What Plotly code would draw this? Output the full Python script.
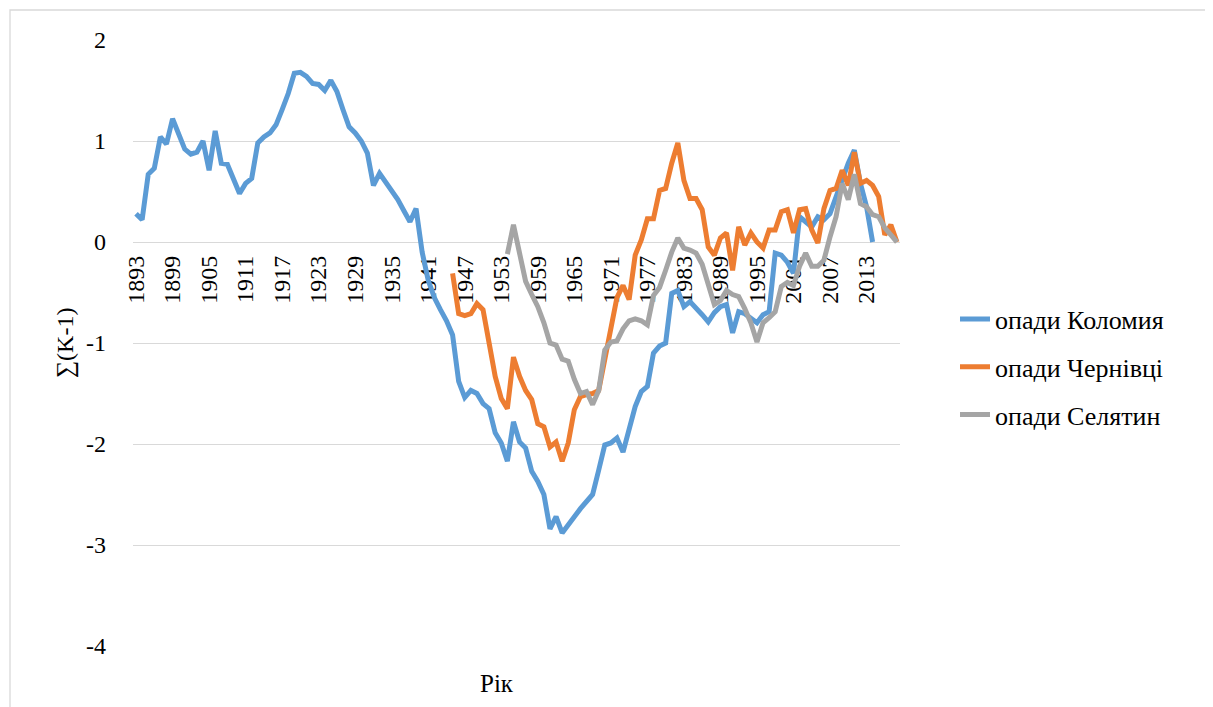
import plotly.graph_objects as go

# ---- data ----
start_kolomyia = 1893
kolomyia = [0.28, 0.22, 0.67, 0.73, 1.04, 0.97, 1.22, 1.06, 0.92, 0.87,
            0.89, 1.00, 0.71, 1.10, 0.78, 0.77, 0.63, 0.48, 0.58, 0.63,
            0.98, 1.04, 1.08, 1.16, 1.31, 1.47, 1.67, 1.68, 1.64, 1.57,
            1.56, 1.50, 1.60, 1.49, 1.31, 1.14, 1.08, 1.00, 0.88, 0.56,
            0.68, 0.60, 0.51, 0.42, 0.31, 0.20, 0.33, -0.10, -0.38, -0.55,
            -0.67, -0.78, -0.92, -1.38, -1.54, -1.47, -1.50, -1.60, -1.65, -1.89,
            -1.99, -2.17, -1.78, -1.98, -2.04, -2.27, -2.37, -2.50, -2.84, -2.72,
            -2.88, -2.79, -2.72, -2.64, -2.57, -2.50, -2.26, -2.01, -1.99, -1.94,
            -2.08, -1.84, -1.63, -1.48, -1.43, -1.10, -1.03, -1.00, -0.51, -0.48,
            -0.64, -0.59, -0.65, -0.72, -0.79, -0.70, -0.64, -0.62, -0.90, -0.69,
            -0.71, -0.76, -0.80, -0.72, -0.69, -0.11, -0.13, -0.20, -0.31, 0.25,
            0.20, 0.15, 0.25, 0.22, 0.28, 0.45, 0.62, 0.78, 0.91, 0.58,
            0.35, 0.00]

start_chernivtsi = 1945
chernivtsi = [-0.31, -0.71, -0.73, -0.71, -0.61, -0.67, -1.00, -1.33, -1.55, -1.65,
              -1.14, -1.33, -1.47, -1.56, -1.80, -1.83, -2.03, -1.98, -2.17, -1.99,
              -1.66, -1.53, -1.51, -1.50, -1.47, -1.15, -0.85, -0.55, -0.43, -0.57,
              -0.13, 0.02, 0.23, 0.23, 0.51, 0.53, 0.78, 0.98, 0.61, 0.43,
              0.43, 0.32, -0.05, -0.13, 0.04, 0.09, -0.28, 0.15, -0.03, 0.09,
              0.00, -0.06, 0.12, 0.12, 0.30, 0.32, 0.09, 0.32, 0.33, 0.12,
              -0.01, 0.33, 0.51, 0.53, 0.71, 0.56, 0.89, 0.58, 0.61, 0.56,
              0.45, 0.07, 0.17, 0.00]

start_seliatyn = 1954
seliatyn = [-0.12, 0.17, -0.11, -0.39, -0.52, -0.64, -0.80, -1.00, -1.02, -1.16,
            -1.18, -1.36, -1.50, -1.48, -1.61, -1.47, -1.07, -0.99, -0.98, -0.86,
            -0.78, -0.76, -0.78, -0.82, -0.53, -0.45, -0.28, -0.10, 0.04, -0.06,
            -0.08, -0.11, -0.22, -0.42, -0.62, -0.58, -0.48, -0.52, -0.54, -0.66,
            -0.80, -0.99, -0.80, -0.75, -0.69, -0.44, -0.40, -0.43, -0.24, -0.11,
            -0.24, -0.24, -0.18, 0.05, 0.25, 0.58, 0.42, 0.67, 0.38, 0.35,
            0.27, 0.25, 0.14, 0.07, 0.00]

first_year = 1893
last_year = 2018
tick_years = list(range(1893, 2014, 6))
y_ticks = [2, 1, 0, -1, -2, -3, -4]
y_tick_text = ["2", "1", "0", "-1", "-2", "-3", "-4"]

names = ["опади Коломия", "опади Чернівці", "опади Селятин"]
colors = ["#5B9BD5", "#ED7D31", "#A5A5A5"]

FONT = "'Liberation Serif', 'Times New Roman', Times, serif"

fig = go.Figure()
for i, (start, vals) in enumerate([(start_kolomyia, kolomyia),
                                    (start_chernivtsi, chernivtsi),
                                    (start_seliatyn, seliatyn)]):
    xs = list(range(start, start + len(vals)))
    fig.add_trace(go.Scatter(
        x=xs, y=vals, mode="lines", name=names[i],
        legendgroup=f"g{i}",
        line=dict(color=colors[i], width=5),
    ))

# page body has an 8px margin, so the figure is drawn 8px smaller/offset
OFF = 8
W, H = 1213 - OFF, 707 - OFF
L, T = 133 - OFF, 40 - OFF
pw, ph = 767, 606
R, B = W - L - pw, H - T - ph

def px_x(x):  # reference pixel -> paper x
    return (x - 133) / pw

def px_y(y):  # reference pixel -> paper y
    return (646 - y) / ph

fig.update_layout(
    width=W, height=H,
    margin=dict(l=L, r=R, t=T, b=B),
    paper_bgcolor="white", plot_bgcolor="white",
    font=dict(family=FONT, size=24, color="black"),
    showlegend=True,
    legend=dict(
        x=px_x(955), xanchor="left",
        y=px_y(367), yanchor="middle",
        font=dict(family=FONT, size=26, color="black"),
        traceorder="grouped", tracegroupgap=11,
        bgcolor="rgba(0,0,0,0)",
    ),
    xaxis=dict(
        range=[first_year - 0.5, last_year + 0.5],
        tickvals=tick_years,
        ticktext=[str(y) for y in tick_years],
        tickangle=-90,
        anchor="free",
        position=(0 - y_ticks[-1]) / (y_ticks[0] - y_ticks[-1]),
        showgrid=False, zeroline=False, showline=False,
        ticks="", ticklabelstandoff=8,
        layer="below traces",
        tickfont=dict(family=FONT, size=24, color="black"),
    ),
    yaxis=dict(
        range=[y_ticks[-1], y_ticks[0]],
        tickvals=y_ticks, ticktext=y_tick_text,
        showgrid=True, gridcolor="#D9D9D9", gridwidth=1.3,
        zeroline=False, showline=False,
        ticks="", ticklabelstandoff=26,
        tickfont=dict(family=FONT, size=24, color="black"),
    ),
)

fig.add_annotation(
    text="∑(K-1)", textangle=-90,
    xref="paper", yref="paper",
    x=px_x(65), y=0.5, xanchor="center", yanchor="middle",
    showarrow=False, font=dict(family=FONT, size=24, color="black"),
)
fig.add_annotation(
    text="Рік",
    xref="paper", yref="paper",
    x=px_x(497), y=px_y(683), xanchor="center", yanchor="middle",
    showarrow=False, font=dict(family=FONT, size=25, color="black"),
)

# chart area border
fig.add_shape(
    type="rect", xref="paper", yref="paper",
    x0=px_x(10), x1=px_x(1240),
    y0=px_y(740), y1=px_y(10),
    line=dict(color="#D9D9D9", width=1.3), fillcolor="rgba(0,0,0,0)",
    layer="below",
)

fig.write_html("out.html")
